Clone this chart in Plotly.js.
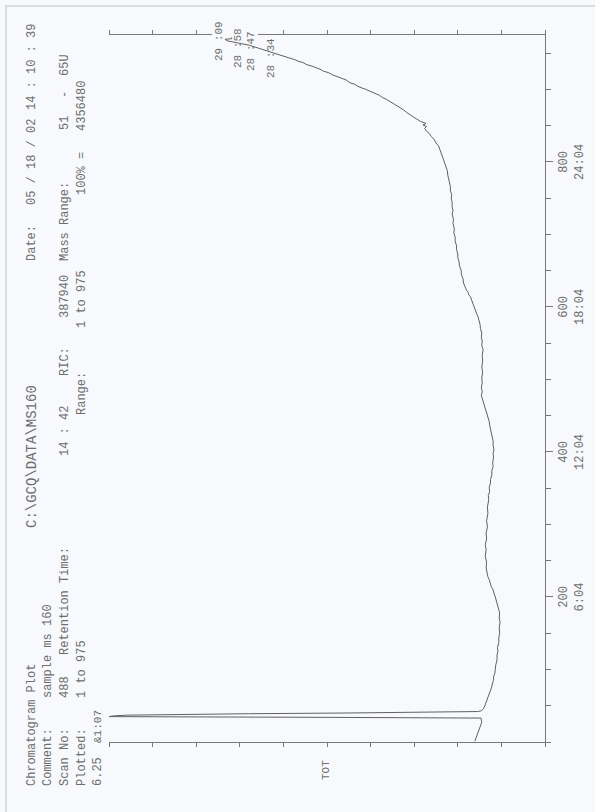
<!DOCTYPE html>
<html><head><meta charset="utf-8">
<script src="https://cdn.plot.ly/plotly-3.0.1.min.js"></script>
<style>
html,body{margin:0;padding:0;background:#f7f9fc;overflow:hidden;width:595px;height:812px;}
#wrap{position:absolute;left:0;top:0;width:812px;height:595px;transform-origin:0 0;transform:translate(0px,812px) rotate(-90deg);}
</style></head><body><div id="wrap"></div>
<script>
// scan number
const scans = [1,4,8,12,16,20,24,28,31,33,34,35,36,37,38,39,40,41,42,43,46,50,55,60,64,67,71,76,80,85,90,95,100,106,113,120,125,130,137,144,150,157,165,171,178,183,188,192,196,200,205,210,214,219,224,228,233,240,248,256,265,272,280,288,297,305,315,324,334,340,345,351,357,362,368,374,380,386,392,398,403,409,415,420,426,431,437,442,448,454,460,466,472,478,483,489,495,502,510,517,525,533,541,547,553,558,564,570,576,582,587,591,596,600,603,607,610,614,617,620,623,628,633,639,645,650,656,662,668,673,679,685,690,696,702,708,715,721,728,733,738,744,750,755,760,766,771,777,782,788,793,799,805,811,817,822,826,831,835,839,842,846,849,851,853,856,859,862,865,868,872,875,878,881,883,886,889,892,895,898,900,902,904,907,909,913,916,918,920,923,925,927,929,932,934,937,939,941,943,946,949,952,954,957,959,961,963,965,967,969,970,972,975];
// total ion current, % of 100% = 4356480
const intensity = [16.1,15.9,15.7,15.5,15.2,14.9,14.7,14.5,14.6,14.7,50,100,99,96,85,68,45,20,15.5,14.6,14.1,13.8,13.5,13.1,12.9,12.7,12.6,12.2,12.1,11.8,11.8,11.5,11.4,11.3,11.0,11.0,10.8,10.9,10.6,10.6,10.4,10.5,10.3,10.5,10.4,10.6,10.8,10.9,11.2,11.4,11.7,11.9,12.3,12.5,12.8,13.1,13.2,13.5,13.4,13.7,13.5,13.7,13.4,13.5,13.2,13.4,13.1,13.2,12.9,13.0,12.7,12.8,12.5,12.5,12.2,12.2,11.9,12.0,11.8,11.9,11.7,11.9,11.9,12.1,12.3,12.4,12.7,12.8,13.1,13.4,13.8,14.0,14.4,14.6,14.4,14.6,14.4,14.5,14.3,14.5,14.3,14.4,14.2,14.5,14.4,14.6,14.5,14.8,14.9,15.1,15.4,15.7,16.0,16.2,16.5,16.6,16.9,17.1,17.5,17.6,18.0,18.3,18.7,18.8,19.2,19.2,19.6,19.7,20.0,20.0,20.3,20.3,20.6,20.6,20.9,20.8,21.1,21.0,21.3,21.1,21.3,21.3,21.5,21.4,21.7,21.7,21.9,22.0,22.3,22.4,22.7,22.9,23.4,23.6,24.1,24.4,25.0,25.4,26.1,26.5,27.1,27.6,27.2,28.0,27.3,28.6,29.4,30.2,30.7,31.7,32.5,33.3,34.1,34.7,35.5,36.3,37.3,38.0,39.2,40.2,41.1,42.0,42.9,43.6,44.7,45.6,47.0,47.6,48.7,49.6,50.8,51.3,52.1,53.4,54.6,55.5,56.7,57.4,58.5,60.0,61.5,62.9,64.2,65.5,66.9,67.9,69.6,71.2,72.9,73.4,71.8,72.0,72.2];
const majorTicks = [200,400,600,800];
const scanLabels = ['200','400','600','800'];
const timeLabels = ['6:04','12:04','18:04','24:04'];
const peakLabels = ['29 :09','28 :58','28 :47','28 :34'];
const headerTexts = ['Chromatogram Plot','C:\\GCQ\\DATA\\MS160','Date:','05 / 18 / 02','14 : 10 : 39',
  'Comment:','sample ms 160',
  'Scan No:','488','Retention Time:','14 : 42','RIC:','387940','Mass Range:','51','-','65U',
  'Plotted:','1 to 975','Range:','1 to 975','100% =','4356480',
  '6.25','&1:07'];

// layout helpers (pixel -> paper)
const L=70, R=35, T=109, B=50, W=812, H=595;
const PW=W-L-R, PH=H-T-B;
const X = ox => (ox-L)/PW;
const Y = oy => (H-B-oy)/PH;
const bg = '#f7f9fc';
const ink = '#6e6e6e';
const mono = 'Liberation Mono, Courier New, monospace';

const headerPos = [[24,32,12],[282,32,14],[549,32,12],[605,32,12],[700,32,12],
  [24,48,12],[112,48,12],
  [24,65,12],[112,65,12],[155,65,12],[354,65,12],[434,65,12],[492,65,12],[549,65,12],[680,65,12],[712,65,12],[734,65,12],
  [24,82,12],[112,82,12],[395,82,12],[482,82,12],[615,82,12],[679,82,12],
  [24,98,12],[67,98,11]];
const annotations = headerTexts.map((t,i)=>({
  text:t, xref:'paper', yref:'paper', x:X(headerPos[i][0]), y:Y(headerPos[i][1]),
  xanchor:'left', yanchor:'middle', showarrow:false,
  font:{family:mono, size:headerPos[i][2], color:ink}
}));
const peakPos = [[749,219],[742,238],[739,251],[732,271]];
peakLabels.forEach((t,i)=>annotations.push({
  text:t, xref:'paper', yref:'paper', x:X(peakPos[i][0]), y:Y(peakPos[i][1]),
  xanchor:'left', yanchor:'middle', showarrow:false,
  font:{family:mono, size:11, color:ink}
}));
annotations.push({text:'TOT', xref:'paper', yref:'paper', x:X(42), y:Y(326),
  xanchor:'center', yanchor:'middle', showarrow:false, font:{family:mono, size:11, color:ink}});

const data = [{
  x: scans, y: intensity, type:'scatter', mode:'lines',
  line:{color:'#606060', width:1}, hoverinfo:'skip'
}];

const layout = {
  width:W, height:H,
  margin:{l:L, r:R, t:T, b:B, pad:0},
  paper_bgcolor:bg, plot_bgcolor:bg,
  showlegend:false,
  xaxis:{
    range:[0,975], showgrid:false, zeroline:false,
    showline:true, linecolor:'#777', linewidth:1, mirror:false,
    tickmode:'array', tickvals:majorTicks,
    ticktext: majorTicks.map((v,i)=>scanLabels[i]+'<br>'+timeLabels[i]),
    ticks:'outside', ticklen:7, tickcolor:'#777', tickwidth:1,
    tickfont:{family:mono, size:12, color:ink},
    minor:{tickmode:'linear', tick0:0, dtick:50, ticks:'outside', ticklen:5, tickcolor:'#777', tickwidth:1, showgrid:false}
  },
  yaxis:{
    range:[0,100], showgrid:false, zeroline:false,
    showline:true, linecolor:'#777', linewidth:1, mirror:'ticks',
    tickmode:'linear', tick0:0, dtick:10,
    ticks:'outside', ticklen:4, tickcolor:'#777', tickwidth:1,
    showticklabels:false
  },
  annotations: annotations,
  shapes:[
    {type:'rect', xref:'paper', yref:'paper', x0:X(774.5), x1:X(782), y0:Y(258), y1:Y(212),
     fillcolor:bg, line:{width:0}, layer:'above'},
    {type:'line', xref:'paper', yref:'paper', x0:X(0), x1:X(807), y0:Y(6), y1:Y(6),
     line:{color:'#d0d3d8', width:1.5}},
    {type:'line', xref:'paper', yref:'paper', x0:X(806), x1:X(806), y0:Y(6), y1:Y(595),
     line:{color:'#d0d3d8', width:1.5}}
  ]
};
Plotly.newPlot('wrap', data, layout, {staticPlot:true, displayModeBar:false});
</script></body></html>
